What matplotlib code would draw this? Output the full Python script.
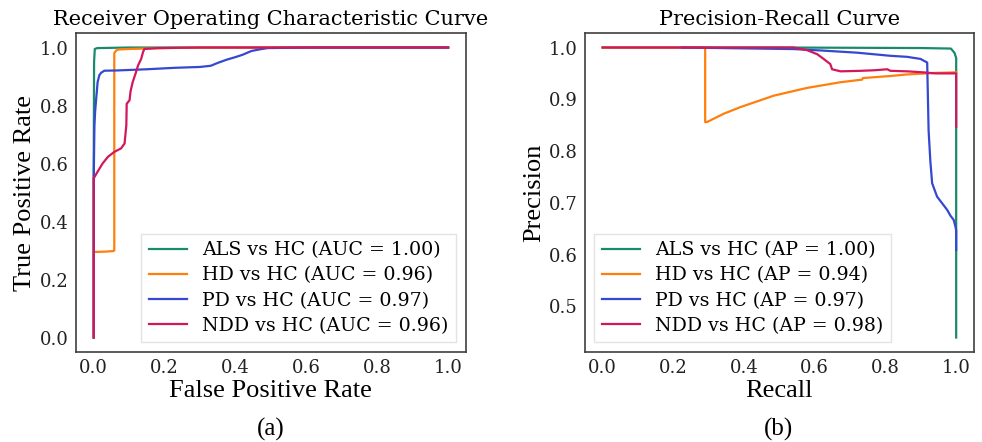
import matplotlib
matplotlib.use("Agg")
import matplotlib.pyplot as plt
from matplotlib import font_manager as fm

# ---------------- data ----------------
labels = ["ALS vs HC", "HD vs HC", "PD vs HC", "NDD vs HC"]
auc_vals = ["1.00", "0.96", "0.97", "0.96"]
ap_vals = ["1.00", "0.94", "0.97", "0.98"]
colors = ["#1a8a6c", "#ff7f0e", "#3548d0", "#d3175c"]

# ROC curves (FPR, TPR)
als_fpr = [0.0, 0.0, 0.001, 0.003, 0.01, 0.1, 1.0]
als_tpr = [0.0, 0.6, 0.95, 0.995, 0.998, 1.0, 1.0]

hd_fpr = [0.0, 0.0, 0.03, 0.055, 0.058, 0.058, 0.062, 0.068, 0.1, 0.2, 0.3, 1.0]
hd_tpr = [0.0, 0.295, 0.296, 0.298, 0.30, 0.98, 0.988, 0.993, 0.995, 0.998, 1.0, 1.0]

pd_fpr = [0.0, 0.0, 0.002, 0.004, 0.007, 0.011, 0.016, 0.021, 0.03, 0.068, 0.15, 0.228,
          0.3, 0.33, 0.35, 0.375, 0.40, 0.42, 0.445, 0.47, 0.49, 0.55, 0.6, 1.0]
pd_tpr = [0.0, 0.55, 0.73, 0.78, 0.824, 0.881, 0.905, 0.913, 0.92, 0.921, 0.925, 0.93,
          0.933, 0.937, 0.947, 0.958, 0.967, 0.975, 0.988, 0.994, 0.998, 0.999, 1.0, 1.0]

ndd_fpr = [0.0, 0.0, 0.011, 0.025, 0.04, 0.058, 0.077, 0.087, 0.092, 0.093, 0.101, 0.104,
           0.11, 0.118, 0.125, 0.134, 0.139, 0.143, 0.18, 0.3, 1.0]
ndd_tpr = [0.0, 0.549, 0.572, 0.60, 0.623, 0.64, 0.652, 0.669, 0.732, 0.806, 0.818, 0.85,
           0.881, 0.91, 0.938, 0.961, 0.984, 0.995, 0.998, 1.0, 1.0]

# Precision-Recall curves (recall, precision)
als_rec = [0.0, 0.5, 0.9, 0.985, 0.995, 1.0, 1.0]
als_prec = [1.0, 1.0, 0.999, 0.998, 0.99, 0.98, 0.44]

hd_rec = [0.0, 0.29, 0.29, 0.295, 0.342, 0.39, 0.484, 0.578, 0.673, 0.734, 0.736,
          0.814, 0.861, 0.942, 1.0]
hd_prec = [1.0, 1.0, 0.856, 0.856, 0.872, 0.885, 0.907, 0.922, 0.933, 0.938, 0.941,
           0.945, 0.948, 0.951, 0.952]

pd_rec = [0.225, 0.54, 0.625, 0.72, 0.767, 0.814, 0.861, 0.899, 0.918, 0.922, 0.927,
          0.932, 0.946, 0.965, 0.975, 0.984, 0.993, 0.998, 1.0, 1.0]
pd_prec = [1.0, 0.997, 0.994, 0.99, 0.987, 0.984, 0.982, 0.978, 0.971, 0.84, 0.78,
           0.738, 0.712, 0.695, 0.686, 0.675, 0.667, 0.654, 0.647, 0.609]

ndd_rec = [0.0, 0.54, 0.578, 0.607, 0.625, 0.644, 0.649, 0.673, 0.729, 0.767, 0.805,
           0.814, 0.861, 0.908, 0.942, 1.0, 1.0]
ndd_prec = [1.0, 1.0, 0.995, 0.987, 0.978, 0.968, 0.958, 0.954, 0.955, 0.956, 0.958,
            0.955, 0.954, 0.952, 0.95, 0.95, 0.847]

roc_x = [als_fpr, hd_fpr, pd_fpr, ndd_fpr]
roc_y = [als_tpr, hd_tpr, pd_tpr, ndd_tpr]
pr_x = [als_rec, hd_rec, pd_rec, ndd_rec]
pr_y = [als_prec, hd_prec, pd_prec, ndd_prec]

# ---------------- fonts ----------------
serif = "DejaVu Serif"
label_fp = fm.FontProperties(family="Liberation Serif", size=19)

plt.rcParams["font.family"] = serif

fig = plt.figure(figsize=(9.82, 4.42), dpi=100)
ax1 = fig.add_axes([0.0774, 0.2036, 0.397, 0.7217])
ax2 = fig.add_axes([0.5957, 0.2036, 0.396, 0.7217])

for ax in (ax1, ax2):
    for s in ax.spines.values():
        s.set_color("#404040")
        s.set_linewidth(1.2)
    ax.tick_params(length=0, pad=5, labelsize=13, colors="#222222")

for i in range(4):
    ax1.plot(roc_x[i], roc_y[i], color=colors[i], lw=1.6,
             label=f"{labels[i]} (AUC = {auc_vals[i]})")
    ax2.plot(pr_x[i], pr_y[i], color=colors[i], lw=1.6,
             label=f"{labels[i]} (AP = {ap_vals[i]})")

ax1.set_xticks([0.0, 0.2, 0.4, 0.6, 0.8, 1.0])
ax1.set_yticks([0.0, 0.2, 0.4, 0.6, 0.8, 1.0])
ax2.set_xticks([0.0, 0.2, 0.4, 0.6, 0.8, 1.0])
ax2.set_yticks([0.5, 0.6, 0.7, 0.8, 0.9, 1.0])

ax1.set_title("Receiver Operating Characteristic Curve", fontsize=15, pad=6)
ax2.set_title("Precision-Recall Curve", fontsize=15, pad=6)
ax1.set_xlabel("False Positive Rate", fontproperties=label_fp, labelpad=2)
ax1.set_ylabel("True Positive Rate", fontproperties=label_fp, labelpad=3)
ax2.set_xlabel("Recall", fontproperties=label_fp, labelpad=2)
ax2.set_ylabel("Precision", fontproperties=label_fp, labelpad=3)

leg_kw = dict(fontsize=13.7, handlelength=2.0, labelspacing=0.38, borderpad=0.4,
              framealpha=0.8, edgecolor="#dddddd", fancybox=False)
l1 = ax1.legend(loc="lower right", **leg_kw)
l2 = ax2.legend(loc="lower left", **leg_kw)

fig.text(0.276, 0.003, "(a)", family="Liberation Serif", fontsize=18, ha="center", va="bottom")
fig.text(0.793, 0.003, "(b)", family="Liberation Serif", fontsize=18, ha="center", va="bottom")

fig.savefig("out.png", dpi=100, facecolor="white")
